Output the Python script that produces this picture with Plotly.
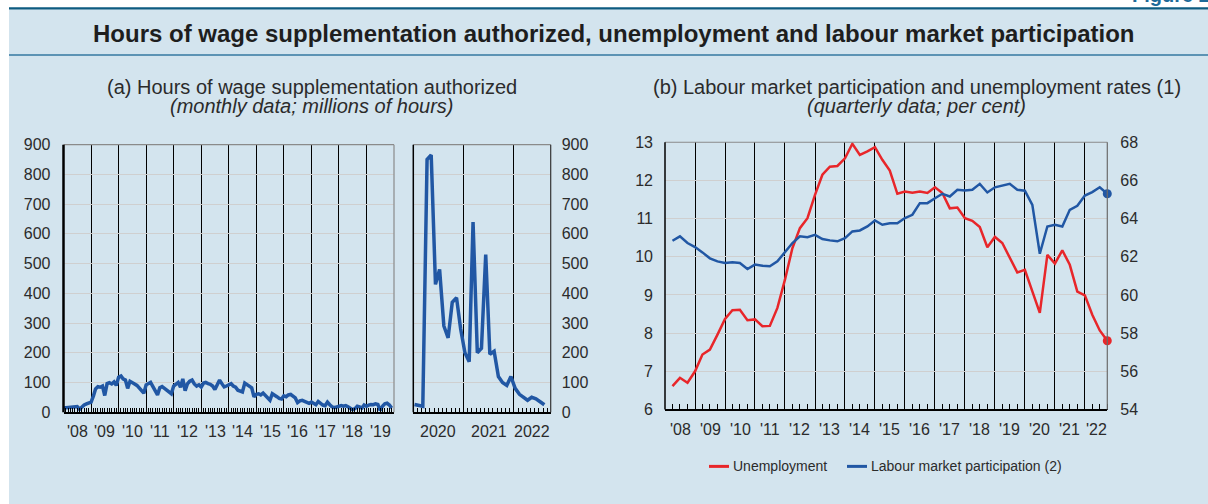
import pandas as pd
import plotly.graph_objects as go

W, H = 1208, 504
FONT = "Liberation Sans, Arial, sans-serif"
BLUE = "#2157a4"
RED = "#e8262a"
PANEL_BG = "#d3e4ee"
TEXT = "#2b2b2b"

# ---- data -----------------------------------------------------------------
# (a) hours of wage supplementation authorized, millions, monthly 2008-2019
hours_2008_2019 = [
    14, 15, 16, 15, 18, 17, 19, 10, 18, 24, 28, 31,
    34, 55, 78, 86, 84, 88, 56, 96, 99, 95, 102, 90,
    118, 122, 112, 108, 80, 104, 98, 95, 90, 80, 70, 64,
    92, 98, 100, 86, 74, 58, 82, 86, 80, 74, 66, 62,
    88, 95, 100, 84, 112, 72, 95, 104, 108, 95, 88, 92,
    85, 98, 100, 96, 94, 88, 76, 92, 108, 96, 85, 88,
    92, 96, 88, 84, 74, 70, 68, 98, 92, 86, 82, 52,
    60, 62, 58, 64, 56, 48, 40, 62, 58, 52, 46, 44,
    55, 52, 58, 60, 54, 48, 32, 38, 40, 36, 32, 30,
    34, 30, 25, 36, 30, 24, 22, 34, 25, 18, 15, 18,
    20, 22, 20, 22, 18, 12, 8, 12, 20, 18, 14, 24,
    20, 24, 26, 25, 28, 26, 6, 20, 28, 30, 24, 14,
]
# (a) same series, monthly Jan 2020 - Aug 2022
hours_2020_2022 = [
    26, 22, 20, 850, 865, 430, 480, 290, 250, 370, 385, 280,
    200, 170, 640, 200, 215, 530, 195, 205, 120, 100, 90, 120,
    80, 60, 50, 40, 50, 45, 35, 25,
]
# (b) quarterly rates, 2008 Q1 - 2022 Q3 (per cent)
unemployment = [
    6.61, 6.83, 6.70, 7.00, 7.44, 7.57, 7.96, 8.37, 8.60, 8.61, 8.34, 8.36,
    8.18, 8.19, 8.66, 9.40, 10.23, 10.75, 11.01, 11.62, 12.15, 12.36, 12.38, 12.58,
    12.96, 12.67, 12.76, 12.87, 12.54, 12.26, 11.65, 11.71, 11.68, 11.71, 11.67, 11.82,
    11.67, 11.27, 11.29, 11.01, 10.94, 10.78, 10.25, 10.52, 10.36, 9.97, 9.59, 9.66,
    9.09, 8.53, 10.05, 9.82, 10.17, 9.79, 9.09, 8.99, 8.48, 8.07, 7.80,
]
participation = [
    62.84, 63.07, 62.72, 62.51, 62.23, 61.92, 61.76, 61.67, 61.71, 61.67, 61.36, 61.59,
    61.53, 61.50, 61.76, 62.23, 62.72, 63.07, 63.03, 63.15, 62.93, 62.86, 62.81, 62.98,
    63.33, 63.38, 63.59, 63.90, 63.68, 63.76, 63.76, 64.03, 64.20, 64.81, 64.81, 65.07,
    65.30, 65.16, 65.51, 65.47, 65.51, 65.82, 65.37, 65.64, 65.72, 65.82, 65.51, 65.46,
    64.72, 62.16, 63.59, 63.68, 63.59, 64.46, 64.67, 65.21, 65.39, 65.64, 65.30,
]

months_a = pd.date_range("2008-01-01", periods=len(hours_2008_2019), freq="MS")
months_b = pd.date_range("2020-01-01", periods=len(hours_2020_2022), freq="MS") + pd.Timedelta(days=9)
quarters = pd.date_range("2008-04-01", periods=len(unemployment), freq="QS")  # end of each quarter

RANGE_A = ("2008-01-01", "2020-01-01")
RANGE_M = ("2020-01-01", "2022-09-25")
RANGE_B = ("2008-01-01", "2022-10-01")

# page placement: the figure sits 7.8 px below the top of the page and is
# drawn at 0.968 of its nominal height, so vertical positions are converted
V_SCALE, V_OFFSET = 0.968, 7.8


def px_x(v):
    return v / W


def px_y(v):
    return 1 - ((v - V_OFFSET) / V_SCALE) / H


# ---- figure ---------------------------------------------------------------
fig = go.Figure()

fig.add_trace(go.Scatter(x=months_a, y=hours_2008_2019, mode="lines",
                         line=dict(color=BLUE, width=3.5), xaxis="x", yaxis="y",
                         showlegend=False))
fig.add_trace(go.Scatter(x=months_b, y=hours_2020_2022, mode="lines",
                         line=dict(color=BLUE, width=3.5), xaxis="x2", yaxis="y2",
                         showlegend=False))
fig.add_trace(go.Scatter(x=quarters, y=unemployment, mode="lines",
                         line=dict(color=RED, width=2.5), xaxis="x3", yaxis="y3",
                         showlegend=False))
fig.add_trace(go.Scatter(x=quarters, y=participation, mode="lines",
                         line=dict(color=BLUE, width=2.5), xaxis="x3", yaxis="y4",
                         showlegend=False))
fig.add_trace(go.Scatter(x=[quarters[-1]], y=[unemployment[-1]], mode="markers",
                         marker=dict(color=RED, size=9), xaxis="x3", yaxis="y3",
                         showlegend=False, cliponaxis=False))
fig.add_trace(go.Scatter(x=[quarters[-1]], y=[participation[-1]], mode="markers",
                         marker=dict(color=BLUE, size=9), xaxis="x3", yaxis="y4",
                         showlegend=False, cliponaxis=False))

tickfont = dict(family=FONT, size=16, color=TEXT)


def date_axis(domain, rng, minor_step, minor_len, anchor):
    return dict(
        domain=domain, anchor=anchor, type="date", range=list(rng),
        showgrid=True, gridcolor="#000000", gridwidth=1,
        tick0="2008-01-01", dtick="M12", ticks="", showticklabels=False,
        minor=dict(dtick=minor_step, tick0="2008-01-01", ticks="inside",
                   ticklen=minor_len, tickcolor="#000000", tickwidth=1, showgrid=False),
        showline=True, linecolor="#000000", linewidth=1.5,
        zeroline=False, fixedrange=True,
    )


def value_axis(domain, rng, dtick, side, anchor, standoff, overlaying=None, grid=True):
    ax = dict(
        domain=domain, anchor=anchor, range=list(rng), dtick=dtick, side=side,
        showgrid=grid, gridcolor="#cfcfcf", gridwidth=1, zeroline=False,
        ticks="", tickfont=tickfont, ticklabelstandoff=standoff,
        showline=False, fixedrange=True,
    )
    if overlaying:
        ax["overlaying"] = overlaying
    return ax


dom_ya = [px_y(412.7), px_y(144.7)]
dom_yb = [px_y(410.0), px_y(142.3)]
dom_xa = [px_x(63.5), px_x(394.0)]
dom_xm = [px_x(413.3), px_x(550.7)]
dom_xb = [px_x(665.0), px_x(1107.3)]

fig.update_layout(
    width=W, height=H, margin=dict(l=0, r=0, t=0, b=0),
    paper_bgcolor="#ffffff", plot_bgcolor="#ffffff",
    font=dict(family=FONT, color=TEXT),
    showlegend=False,
    xaxis=date_axis(dom_xa, RANGE_A, "M1", 4, "y"),
    xaxis2=date_axis(dom_xm, RANGE_M, "M1", 4, "y2"),
    xaxis3=date_axis(dom_xb, RANGE_B, "M3", 6, "y3"),
    yaxis=value_axis(dom_ya, (0, 900), 100, "left", "x", 12),
    yaxis2=value_axis(dom_ya, (0, 900), 100, "right", "x2", 10),
    yaxis3=value_axis(dom_yb, (6, 13), 1, "left", "x3", 11),
    yaxis4=value_axis(dom_yb, (54, 68), 2, "right", "x3", 12, overlaying="y3", grid=False),
)

shapes = [
    # light blue panel and header rules
    dict(type="rect", xref="paper", yref="paper", x0=px_x(9), x1=1.01, y0=-0.05, y1=px_y(9),
         fillcolor=PANEL_BG, line=dict(width=0), layer="below"),
    dict(type="rect", xref="paper", yref="paper", x0=px_x(9), x1=1.01, y0=px_y(9.4), y1=px_y(7.0),
         fillcolor="#0d5b80", line=dict(width=0), layer="below"),
    dict(type="line", xref="paper", yref="paper", x0=px_x(9), x1=1.01, y0=px_y(55), y1=px_y(55),
         line=dict(color="#3579a0", width=1.5), layer="below"),
]

# plot frames: black left/bottom from the axes, lighter top/right
for xr, yr, right_col, left_w in [("x", "y", "#8a8a8a", 2.5), ("x2", "y2", "#333333", 1.5),
                                  ("x3", "y3", "#6a6a6a", 1.5)]:
    shapes.append(dict(type="line", xref=f"{xr} domain", yref=f"{yr} domain",
                       x0=0, x1=1, y0=1, y1=1, line=dict(color="#8a8a8a", width=1.2)))
    shapes.append(dict(type="line", xref=f"{xr} domain", yref=f"{yr} domain",
                       x0=1, x1=1, y0=0, y1=1, line=dict(color=right_col, width=1.2)))
    shapes.append(dict(type="line", xref=f"{xr} domain", yref=f"{yr} domain",
                       x0=0, x1=0, y0=0, y1=1, line=dict(color="#000000", width=left_w)))

# legend keys for panel (b)
legend_y = px_y(467)
shapes.append(dict(type="line", xref="paper", yref="paper", x0=px_x(709), x1=px_x(729),
                   y0=legend_y, y1=legend_y, line=dict(color=RED, width=3)))
shapes.append(dict(type="line", xref="paper", yref="paper", x0=px_x(847), x1=px_x(867),
                   y0=legend_y, y1=legend_y, line=dict(color=BLUE, width=3)))

SUB = 20
annotations = [
    dict(text="Figure 2", xref="paper", yref="paper", x=px_x(1212), y=1.0,
         xanchor="right", yanchor="bottom", showarrow=False,
         font=dict(family=FONT, size=20, color="#1d6a99", weight="bold")),
    dict(text="<b>Hours of wage supplementation authorized, unemployment and labour market participation</b>",
         xref="paper", yref="paper", x=px_x(613.5), y=px_y(33), xanchor="center", yanchor="middle",
         showarrow=False, font=dict(family=FONT, size=24, color="#1e1e1e")),
    dict(text="(a) Hours of wage supplementation authorized", xref="paper", yref="paper",
         x=px_x(312), y=px_y(87), xanchor="center", yanchor="middle", showarrow=False,
         font=dict(family=FONT, size=SUB, color=TEXT)),
    dict(text="<i>(monthly data; millions of hours)</i>", xref="paper", yref="paper",
         x=px_x(311), y=px_y(106), xanchor="center", yanchor="middle", showarrow=False,
         font=dict(family=FONT, size=SUB, color=TEXT)),
    dict(text="(b) Labour market participation and unemployment rates (1)", xref="paper", yref="paper",
         x=px_x(917), y=px_y(87), xanchor="center", yanchor="middle", showarrow=False,
         font=dict(family=FONT, size=SUB, color=TEXT)),
    dict(text="<i>(quarterly data; per cent)</i>", xref="paper", yref="paper",
         x=px_x(916.5), y=px_y(106), xanchor="center", yanchor="middle", showarrow=False,
         font=dict(family=FONT, size=SUB, color=TEXT)),
    dict(text="Unemployment", xref="paper", yref="paper", x=px_x(731), y=legend_y,
         xanchor="left", yanchor="middle", showarrow=False,
         font=dict(family=FONT, size=14, color=TEXT)),
    dict(text="Labour market participation (2)", xref="paper", yref="paper", x=px_x(869), y=legend_y,
         xanchor="left", yanchor="middle", showarrow=False,
         font=dict(family=FONT, size=14, color=TEXT)),
]


def year_labels(rng, xref, yref, fmt):
    start, end = pd.Timestamp(rng[0]), pd.Timestamp(rng[1])
    out = []
    for yr in range(start.year, end.year + 1):
        a = max(pd.Timestamp(f"{yr}-01-01"), start)
        b = min(pd.Timestamp(f"{yr + 1}-01-01"), end)
        if b <= a:
            continue
        mid = a + (b - a) / 2
        out.append(dict(text=fmt(yr), x=mid.strftime("%Y-%m-%d %H:%M"), y=0,
                        xref=xref, yref=f"{yref} domain", xanchor="center", yanchor="middle",
                        yshift=-19 / V_SCALE, showarrow=False, font=tickfont))
    return out


annotations += year_labels(RANGE_A, "x", "y", lambda y: f"'{y % 100:02d}")
annotations += year_labels(RANGE_M, "x2", "y2", lambda y: str(y))
annotations += year_labels(RANGE_B, "x3", "y3", lambda y: f"'{y % 100:02d}")

fig.update_layout(shapes=shapes, annotations=annotations)

fig.write_html("out.html")
